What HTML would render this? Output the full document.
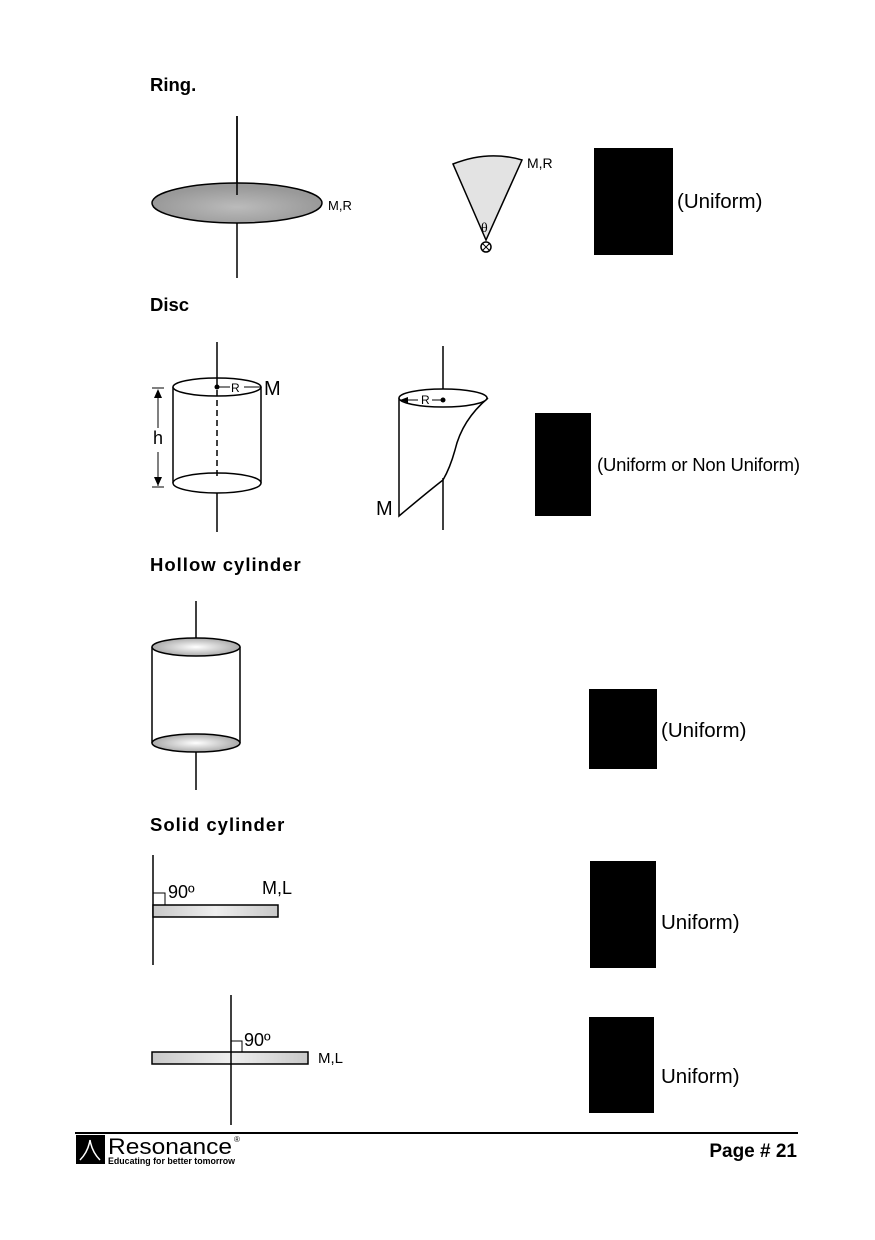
<!DOCTYPE html>
<html><head><meta charset="utf-8"><style>
html,body{margin:0;padding:0;background:#fff;}
svg{display:block;font-family:"Liberation Sans",Arial,sans-serif;}
</style></head><body>
<svg width="875" height="1240" viewBox="0 0 875 1240" xmlns="http://www.w3.org/2000/svg">
<defs>
<radialGradient id="g1" cx="50%" cy="50%" r="50%"><stop offset="0" stop-color="#fff"/><stop offset="1" stop-color="#aaa"/></radialGradient>
<radialGradient id="g2" cx="50%" cy="60%" r="50%"><stop offset="0" stop-color="#bbb"/><stop offset="0.5" stop-color="#aaa"/><stop offset="1" stop-color="#999"/></radialGradient>
<linearGradient id="rod" x1="0" x2="1"><stop offset="0" stop-color="#c8c8c8"/><stop offset="0.5" stop-color="#eee"/><stop offset="1" stop-color="#c8c8c8"/></linearGradient>
</defs>
<g fill="#000" stroke="none" font-weight="bold">
<text x="150" y="91" font-size="18.5">Ring.</text>
<text x="150" y="311" font-size="18.5">Disc</text>
<text x="150" y="571" font-size="18.5" letter-spacing="1">Hollow cylinder</text>
<text x="150" y="831" font-size="18.5" letter-spacing="1">Solid cylinder</text>
</g>

<g stroke="#000" stroke-width="1.5">
<line x1="237" y1="116" x2="237" y2="200"/>
<ellipse cx="237" cy="203" rx="85" ry="20" fill="url(#g2)"/>
<line x1="237" y1="116" x2="237" y2="195"/>
<line x1="237" y1="223" x2="237" y2="278"/>
</g>
<text x="328" y="210" font-size="13">M,R</text>

<g stroke="#000" stroke-width="1.5">
<path d="M486,240 L453,164 Q488,150 522,160 Z" fill="#e3e3e3"/>
<circle cx="486" cy="247" r="5" fill="#fff"/>
<line x1="482.5" y1="243.5" x2="489.5" y2="250.5" stroke-width="1"/>
<line x1="489.5" y1="243.5" x2="482.5" y2="250.5" stroke-width="1"/>
</g>
<text x="481" y="232" font-size="14" font-family="Liberation Serif">θ</text>
<text x="527" y="168" font-size="14">M,R</text>
<rect x="594" y="148" width="79" height="107" fill="#000"/>
<text x="677" y="208" font-size="20.5">(Uniform)</text>

<g stroke="#000" stroke-width="1.5" fill="none">
<line x1="173" y1="387" x2="173" y2="483"/>
<line x1="261" y1="387" x2="261" y2="483"/>
<ellipse cx="217" cy="387" rx="44" ry="9" fill="#fff"/>
<ellipse cx="217" cy="483" rx="44" ry="10" fill="#fff"/>
<line x1="217" y1="342" x2="217" y2="387"/>
<line x1="217" y1="390" x2="217" y2="478" stroke-dasharray="6,4"/>
<line x1="217" y1="493" x2="217" y2="532"/>
<line x1="217" y1="387" x2="230" y2="387" stroke-width="1"/>
<line x1="244" y1="387" x2="261" y2="387" stroke-width="1"/>
<line x1="158" y1="390" x2="158" y2="428" stroke-width="1"/>
<line x1="158" y1="452" x2="158" y2="486" stroke-width="1"/>
<line x1="152" y1="388" x2="164" y2="388" stroke-width="1"/>
<line x1="152" y1="487" x2="164" y2="487" stroke-width="1"/>
<path d="M158,389 l-4,9 h8 Z M158,486 l-4,-9 h8 Z" fill="#000" stroke="none"/>
<circle cx="217" cy="387" r="2.5" fill="#000" stroke="none"/>
</g>
<text x="231" y="392" font-size="12">R</text>
<text x="264" y="395" font-size="20">M</text>
<text x="153" y="444" font-size="18">h</text>

<g stroke="#000" stroke-width="1.5" fill="none">
<line x1="443" y1="346" x2="443" y2="398"/>
<path d="M399,398 L399,516 Q430,490 443,480 Q450,468 455,450 Q462,420 488,398" fill="#fff"/>
<ellipse cx="443" cy="398" rx="44" ry="9" fill="#fff"/>
<line x1="443" y1="478" x2="443" y2="530"/>
<line x1="401" y1="400" x2="418" y2="400" stroke-width="1"/>
<line x1="432" y1="400" x2="443" y2="400" stroke-width="1"/>
<path d="M400,400 l8,-3 v6 Z" fill="#000" stroke="none"/>
<circle cx="443" cy="400" r="2.5" fill="#000" stroke="none"/>
</g>
<text x="421" y="404" font-size="12">R</text>
<text x="376" y="515" font-size="20">M</text>
<rect x="535" y="413" width="56" height="103" fill="#000"/>
<text x="597" y="471" font-size="18.5" letter-spacing="-0.2">(Uniform or Non Uniform)</text>

<g stroke="#000" stroke-width="1.5" fill="none">
<line x1="196" y1="601" x2="196" y2="647"/>
<line x1="152" y1="647" x2="152" y2="743"/>
<line x1="240" y1="647" x2="240" y2="743"/>
<ellipse cx="196" cy="647" rx="44" ry="9" fill="url(#g1)"/>
<ellipse cx="196" cy="743" rx="44" ry="9" fill="url(#g1)"/>
<line x1="196" y1="752" x2="196" y2="790"/>
</g>
<rect x="589" y="689" width="68" height="80" fill="#000"/>
<text x="661" y="737" font-size="20.5">(Uniform)</text>

<g stroke="#000" stroke-width="1.5" fill="none">
<line x1="153" y1="855" x2="153" y2="965"/>
<rect x="153" y="905" width="125" height="12" fill="url(#rod)"/>
<path d="M153,893 H165 V905" stroke-width="1"/>
</g>
<text x="168" y="898" font-size="18">90º</text>
<text x="262" y="894" font-size="18">M,L</text>
<rect x="590" y="861" width="66" height="107" fill="#000"/>
<text x="661" y="929" font-size="20.5">Uniform)</text>

<g stroke="#000" stroke-width="1.5" fill="none">
<rect x="152" y="1052" width="156" height="12" fill="url(#rod)"/>
<line x1="231" y1="995" x2="231" y2="1125"/>
<path d="M231,1041 H242 V1052" stroke-width="1"/>
</g>
<text x="244" y="1046" font-size="18">90º</text>
<text x="318" y="1063" font-size="15">M,L</text>
<rect x="589" y="1017" width="65" height="96" fill="#000"/>
<text x="661" y="1083" font-size="20.5">Uniform)</text>

<line x1="75" y1="1133" x2="798" y2="1133" stroke="#000" stroke-width="2"/>
<g>
<rect x="76" y="1135" width="29" height="29" fill="#000"/>
<path d="M90,1140 Q88,1152 80,1160 M90,1140 Q92,1152 100,1160" stroke="#fff" stroke-width="1.5" fill="none"/>
<text x="108" y="1154" font-size="22" textLength="124" lengthAdjust="spacingAndGlyphs">Resonance</text>
<text x="234" y="1142" font-size="8">®</text>
<text x="108" y="1164" font-size="9.5" font-weight="bold" textLength="127" lengthAdjust="spacingAndGlyphs">Educating for better tomorrow</text>
</g>
<text x="797" y="1157" font-size="19" font-weight="bold" text-anchor="end">Page # 21</text>
</svg>
</body></html>
